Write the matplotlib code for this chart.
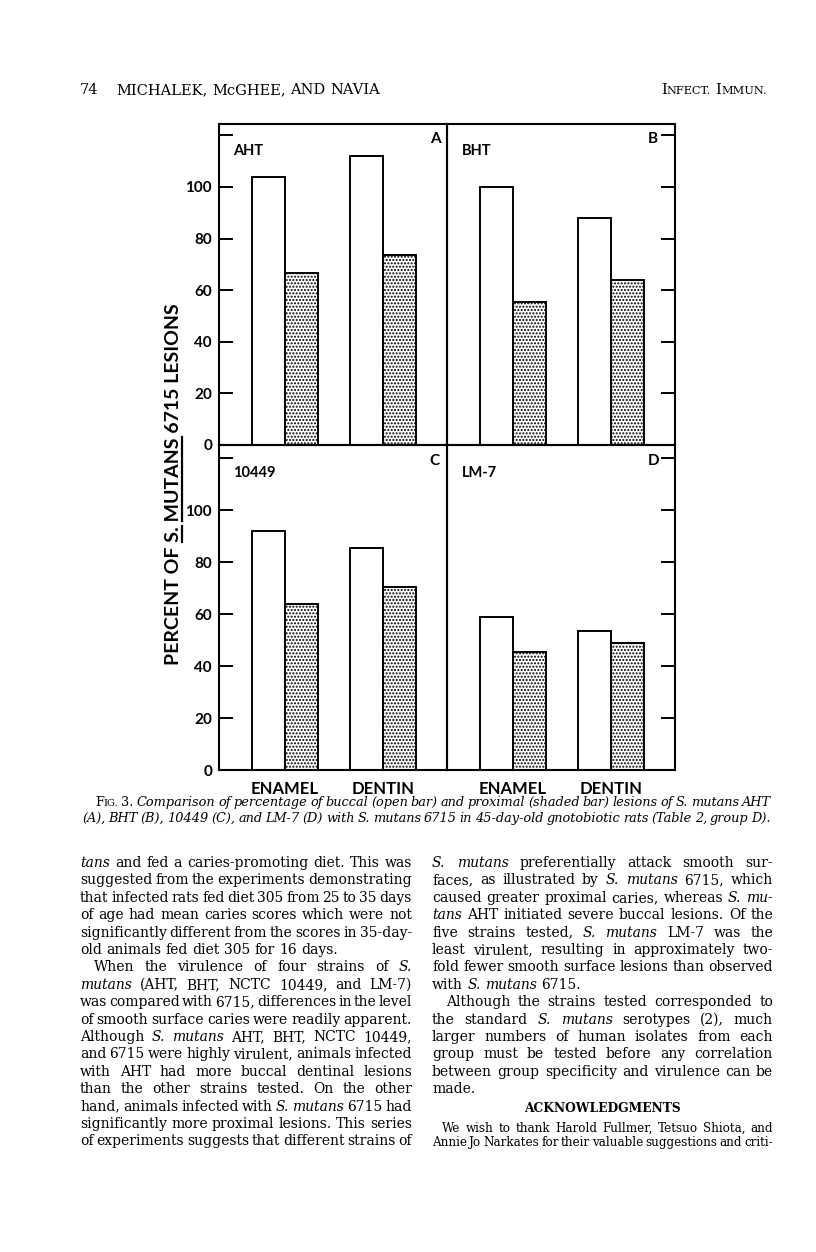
import matplotlib
matplotlib.use('Agg')
import matplotlib.pyplot as plt
from matplotlib.lines import Line2D

# ---------------- data ----------------
panel_letters = ['A', 'B', 'C', 'D']
strains = ['AHT', 'BHT', '10449', 'LM-7']
sites = ['ENAMEL', 'DENTIN']
buccal_open = [[104, 112], [100, 88], [92, 85.5], [59, 53.5]]
proximal_shaded = [[66.5, 73.5], [55.5, 64], [64, 70.5], [45.5, 49]]
y_ticks = [0, 20, 40, 60, 80, 100, 120]
y_tick_labels = ['0', '20', '40', '60', '80', '100', '']
y_label = 'PERCENT OF S. MUTANS 6715 LESIONS'

header_left = ['74', 'MICHALEK, McGHEE, AND NAVIA']
header_right = '^INFECT. ^IMMUN.'
caption_lines = [
    '^FIG. 3. _Comparison_ _of_ _percentage_ _of_ _buccal_ _(open_ _bar)_ _and_ _proximal_ _(shaded_ _bar)_ _lesions_ _of_ _S._ _mutans_ _AHT_',
    '_(A),_ _BHT_ _(B),_ _10449_ _(C),_ _and_ _LM-7_ _(D)_ _with_ _S._ _mutans_ _6715_ _in_ _45-day-old_ _gnotobiotic_ _rats_ _(Table_ _2,_ _group_ _D)._',
]
left_column = [
    ('_tans_ and fed a caries-promoting diet. This was', True, 0),
    ('suggested from the experiments demonstrating', True, 0),
    ('that infected rats fed diet 305 from 25 to 35 days', True, 0),
    ('of age had mean caries scores which were not', True, 0),
    ('significantly different from the scores in 35-day-', True, 0),
    ('old animals fed diet 305 for 16 days.', False, 0),
    ('When the virulence of four strains of _S._', True, 1),
    ('_mutans_ (AHT, BHT, NCTC 10449, and LM-7)', True, 0),
    ('was compared with 6715, differences in the level', True, 0),
    ('of smooth surface caries were readily apparent.', True, 0),
    ('Although _S._ _mutans_ AHT, BHT, NCTC 10449,', True, 0),
    ('and 6715 were highly virulent, animals infected', True, 0),
    ('with AHT had more buccal dentinal lesions', True, 0),
    ('than the other strains tested. On the other', True, 0),
    ('hand, animals infected with _S._ _mutans_ 6715 had', True, 0),
    ('significantly more proximal lesions. This series', True, 0),
    ('of experiments suggests that different strains of', True, 0),
]
right_column = [
    ('_S._ _mutans_ preferentially attack smooth sur-', True, 0),
    ('faces, as illustrated by _S._ _mutans_ 6715, which', True, 0),
    ('caused greater proximal caries, whereas _S._ _mu-_', True, 0),
    ('_tans_ AHT initiated severe buccal lesions. Of the', True, 0),
    ('five strains tested, _S._ _mutans_ LM-7 was the', True, 0),
    ('least virulent, resulting in approximately two-', True, 0),
    ('fold fewer smooth surface lesions than observed', True, 0),
    ('with _S._ _mutans_ 6715.', False, 0),
    ('Although the strains tested corresponded to', True, 1),
    ('the standard _S._ _mutans_ serotypes (2), much', True, 0),
    ('larger numbers of human isolates from each', True, 0),
    ('group must be tested before any correlation', True, 0),
    ('between group specificity and virulence can be', True, 0),
    ('made.', False, 0),
]
ack_title = 'ACKNOWLEDGMENTS'
ack_lines = [
    ('We wish to thank Harold Fullmer, Tetsuo Shiota, and', True, 1),
    ('Annie Jo Narkates for their valuable suggestions and criti-', True, 0),
]

# ---------------- figure ----------------
W, H = 816, 1252
SANS = ['Lato', 'DejaVu Sans']
SERIF = ['DejaVu Serif']
plt.rcParams['font.family'] = SANS
plt.rcParams['font.weight'] = 'bold'
plt.rcParams['hatch.linewidth'] = 1.0
plt.rcParams['hatch.color'] = 'black'

fig = plt.figure(figsize=(W / 100, H / 100), dpi=100, facecolor='white')
renderer = fig.canvas.get_renderer()


def fx(x):
    return x / W


def fy(y):
    return 1 - y / H


# panel boxes in page pixels (left, top, right, bottom)
panel_boxes = [(219, 124, 447, 445), (447, 124, 675, 445),
               (219, 445, 447, 770), (447, 445, 675, 770)]
panel_ymax = [124.4, 124.4, 125.0, 125.0]
group_pos = [0, 1]
bar_w = 0.337
x_lim = (-0.673, 1.653)

for i, (x0, y0, x1, y1) in enumerate(panel_boxes):
    ax = fig.add_axes([fx(x0), fy(y1), (x1 - x0) / W, (y1 - y0) / H])
    ax.set_facecolor('none')
    ax.set_xlim(*x_lim)
    ax.set_ylim(0, panel_ymax[i])
    for s in ax.spines.values():
        s.set_linewidth(1.5)
    ax.bar([p - bar_w / 2 for p in group_pos], buccal_open[i], bar_w,
           facecolor='white', edgecolor='black', linewidth=1.4, zorder=2)
    ax.bar([p + bar_w / 2 for p in group_pos], proximal_shaded[i], bar_w,
           facecolor='white', edgecolor='black', linewidth=1.4, hatch='.....', zorder=2)
    ax.set_yticks(y_ticks)
    left_col = (i % 2 == 0)
    if left_col:
        ax.set_yticklabels(y_tick_labels)
        ax.tick_params(axis='y', left=True, right=False, direction='in', length=10,
                       width=1.4, labelsize=11, pad=5)
    else:
        ax.yaxis.tick_right()
        ax.tick_params(axis='y', left=False, right=True, direction='in', length=10,
                       width=1.4, labelright=False)
    if i >= 2:
        ax.set_xticks(group_pos)
        ax.set_xticklabels(sites)
        ax.tick_params(axis='x', length=0, pad=8, labelsize=12)
    else:
        ax.set_xticks([])
    top_row = i < 2
    ax.text(0.06 if left_col else 0.066, 0.916 if top_row else 0.914, strains[i],
            transform=ax.transAxes, fontsize=10.5, fontweight='bold', ha='left', va='center')
    ax.text(0.947 if left_col else 0.904, 0.952, panel_letters[i],
            transform=ax.transAxes, fontsize=11, fontweight='bold', ha='center', va='center')


def str_width(s, **kw):
    t = fig.text(0, 0, s, **kw)
    w = t.get_window_extent(renderer).width
    t.remove()
    return w


# ---------------- y label with underlines ----------------
w14 = str_width(y_label, fontsize=14, fontweight='bold')
target_len = 362
ylab_fs = 14 * target_len / w14
lab_cx, lab_cy = 179, 484
fig.text(fx(lab_cx), fy(lab_cy), y_label, rotation=90, rotation_mode='anchor',
         ha='center', va='baseline', fontsize=ylab_fs, fontweight='bold')
full_w = str_width(y_label, fontsize=ylab_fs, fontweight='bold')
start_disp = (H - lab_cy) - full_w / 2
for prefix, word in [('PERCENT OF ', 'S.'), ('PERCENT OF S. ', 'MUTANS')]:
    a = str_width(prefix + 'X', fontsize=ylab_fs, fontweight='bold') - \
        str_width('X', fontsize=ylab_fs, fontweight='bold')
    b = str_width(word, fontsize=ylab_fs, fontweight='bold')
    y_a = (start_disp + a) / H
    y_b = (start_disp + a + b) / H
    fig.add_artist(Line2D([fx(lab_cx + 3), fx(lab_cx + 3)], [y_a, y_b],
                          transform=fig.transFigure, color='black', linewidth=1.6))


# ---------------- page text ----------------
_cache = {}


def seg_width(s, style, size, weight):
    key = (s, style, round(size, 3), weight)
    if key not in _cache:
        _cache[key] = str_width(s, fontsize=size, fontstyle=style, fontweight=weight,
                                family=SERIF)
    return _cache[key]


def parse_word(word, size):
    style = 'normal'
    if word.startswith('_') and word.endswith('_') and len(word) > 1:
        style = 'italic'
        word = word[1:-1]
    if word.startswith('^'):
        word = word[1:]
        return [(word[0], style, size), (word[1:], style, size * 0.78)]
    return [(word, style, size)]


def space_width(size, weight='normal'):
    return seg_width('a a', 'normal', size, weight) - seg_width('aa', 'normal', size, weight)


def tight_width(text, size, weight='normal', space_frac=0.5):
    words = text.split()
    tot = 0
    for wd in words:
        for s, st, sz in parse_word(wd, size):
            tot += seg_width(s, st, sz, weight)
    return tot + space_frac * space_width(size, weight) * (len(words) - 1)


def fit_size(lines, base, colw, indent_unit, weight='normal', space_frac=0.5):
    ratio = 0
    for txt, just, ind in lines:
        if just:
            ratio = max(ratio, tight_width(txt, base, weight, space_frac) /
                        (colw - ind * indent_unit))
    return base / ratio


def place_line(text, x0, x1, y_base, size, justify=True, indent=0, weight='normal',
               align='left'):
    words = text.split()
    placed = []
    widths = []
    for wd in words:
        segs = []
        ww = 0
        for s, st, sz in parse_word(wd, size):
            t = fig.text(0, 0, s, fontsize=sz, fontstyle=st, fontweight=weight,
                         family=SERIF, ha='left', va='baseline')
            sw = seg_width(s, st, sz, weight)
            segs.append((t, sw))
            ww += sw
        placed.append(segs)
        widths.append(ww)
    sp = space_width(size, weight)
    total = sum(widths)
    n = len(words)
    if justify and n > 1:
        gap = (x1 - x0 - indent - total) / (n - 1)
        gap = max(gap, sp * 0.4)
    else:
        gap = sp
    if align == 'right':
        x = x1 - (total + gap * (n - 1))
    elif align == 'center':
        x = (x0 + x1) / 2 - (total + gap * (n - 1)) / 2
    else:
        x = x0 + indent
    for segs in placed:
        for t, sw in segs:
            t.set_position((fx(x), fy(y_base)))
            x += sw
        x += gap


LX0, LX1 = 80, 412
RX0, RX1 = 432, 773
indent_px = 14
body_size = min(fit_size(left_column, 10, LX1 - LX0, indent_px),
                fit_size(right_column, 10, RX1 - RX0, indent_px))
body_size = min(body_size, 10.2)
cap_size = min(10 * (771 - 95) / tight_width(caption_lines[0], 10, space_frac=0.7),
               10 * (771 - 82) / tight_width(caption_lines[1], 10, space_frac=0.7))
cap_size = min(cap_size, 9.8)
ack_size = min(fit_size(ack_lines, 8, RX1 - RX0, 10, space_frac=0.55), 8.8)

# header
place_line(header_left[0], 80, 200, 94, 10.5, justify=False)
place_line(header_left[1], 116, 400, 94, 10.5, justify=False)
place_line(header_right, 600, 767, 94, 10.5, justify=False, align='right')

# caption
place_line(caption_lines[0], 95, 771, 806, cap_size, justify=True)
place_line(caption_lines[1], 82, 771, 822, cap_size, justify=True)

# columns
base0 = 867
step = 17.4
for k, (txt, just, ind) in enumerate(left_column):
    place_line(txt, LX0, LX1, base0 + k * step, body_size, justify=just, indent=ind * indent_px)
for k, (txt, just, ind) in enumerate(right_column):
    place_line(txt, RX0, RX1, base0 + k * step, body_size, justify=just, indent=ind * indent_px)

place_line(ack_title, RX0, RX1, 1112, 8.8, justify=False, weight='bold', align='center')
for k, (txt, just, ind) in enumerate(ack_lines):
    place_line(txt, RX0, RX1, 1131.5 + k * 14.2, ack_size, justify=just, indent=ind * 10)

fig.savefig('out.png', dpi=100, facecolor='white')
